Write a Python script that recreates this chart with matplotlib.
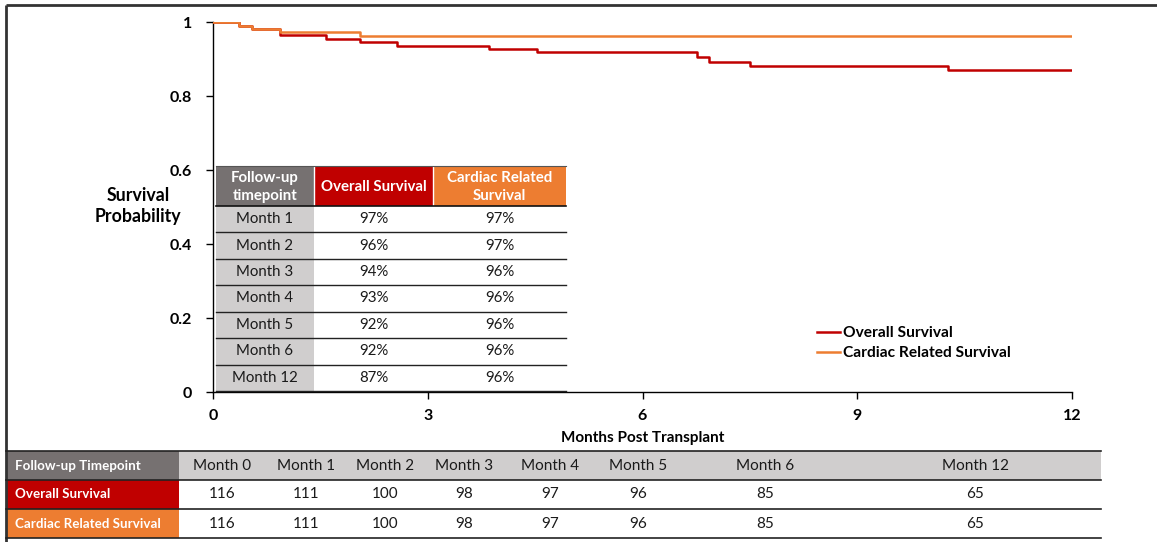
import matplotlib
matplotlib.use("Agg")
import matplotlib.pyplot as plt
from matplotlib.patches import Rectangle

# ---- data ----
overall_t = [0, 0.36, 0.55, 0.93, 1.58, 2.05, 2.57, 3.85, 4.52, 6.76, 6.93, 7.50, 10.27, 12]
overall_s = [1, 0.989, 0.982, 0.966, 0.955, 0.945, 0.936, 0.926, 0.918, 0.905, 0.893, 0.882, 0.870, 0.870]
cardiac_t = [0, 0.36, 0.55, 0.93, 2.05, 12]
cardiac_s = [1, 0.989, 0.982, 0.973, 0.962, 0.962]

inset_timepoints = ["Month 1", "Month 2", "Month 3", "Month 4", "Month 5", "Month 6", "Month 12"]
inset_overall = ["97%", "96%", "94%", "93%", "92%", "92%", "87%"]
inset_cardiac = ["97%", "97%", "96%", "96%", "96%", "96%", "96%"]

risk_timepoints = ["Month 0", "Month 1", "Month 2", "Month 3", "Month 4", "Month 5", "Month 6", "Month 12"]
risk_overall = [116, 111, 100, 98, 97, 96, 85, 65]
risk_cardiac = [116, 111, 100, 98, 97, 96, 85, 65]

x_ticks = [0, 3, 6, 9, 12]
y_ticks = [0, 0.2, 0.4, 0.6, 0.8, 1]
y_tick_labels = ["0", "0.2", "0.4", "0.6", "0.8", "1"]

RED = "#C00000"
ORANGE = "#ED7D31"
DARK_GRAY = "#767171"
LIGHT_GRAY = "#D0CECE"
TEXT = "#1a1a1a"

plt.rcParams["font.family"] = ["Lato", "DejaVu Sans"]

W, H = 1157, 542
fig = plt.figure(figsize=(W / 100, H / 100), dpi=100)

# main survival axes
ax = fig.add_axes([213 / W, (H - 392) / H, (1072 - 213) / W, (392 - 22) / H])
ax.step(overall_t, overall_s, where="post", color=RED, lw=1.8, label="Overall Survival", zorder=3)
ax.step(cardiac_t, cardiac_s, where="post", color=ORANGE, lw=1.8, label="Cardiac Related Survival", zorder=4)
ax.set_xlim(0, 12)
ax.set_ylim(0, 1)
ax.set_xticks(x_ticks)
ax.set_yticks(y_ticks)
ax.set_xticklabels([str(v) for v in x_ticks], fontweight="bold", fontsize=11.5)
ax.set_yticklabels(y_tick_labels, fontweight="bold", fontsize=11.5)
ax.tick_params(axis="x", direction="out", length=5, width=1, pad=7)
ax.tick_params(axis="y", direction="out", length=5, width=1, pad=10)
for s in ["top", "right"]:
    ax.spines[s].set_visible(False)
for s in ["left", "bottom"]:
    ax.spines[s].set_linewidth(1)
ax.set_xlabel("Months Post Transplant", fontweight="bold", fontsize=11, labelpad=6)
ax.patch.set_alpha(0)

ax.legend(loc="upper left", bbox_to_anchor=(803 / W, 1 - 312 / H),
          bbox_transform=fig.transFigure, frameon=False,
          handlelength=1.5, handletextpad=0.15, labelspacing=0.4,
          prop={"weight": "bold", "size": 11.2})

# overlay in pixel coordinates for labels and tables
ov = fig.add_axes([0, 0, 1, 1], zorder=5)
ov.set_xlim(0, W)
ov.set_ylim(H, 0)
ov.axis("off")
ov.patch.set_alpha(0)

ov.text(138, 206, "Survival\nProbability", ha="center", va="center",
        fontweight="bold", fontsize=12.8, linespacing=1.28)

# figure frame
ov.plot([6, 6], [5, H], color="#333333", lw=2, solid_capstyle="butt")
ov.plot([6, W], [5, 5], color="#333333", lw=2, solid_capstyle="butt")

# ---- inset survival table ----
c_edges = [216, 314, 433, 566]
hdr_top, hdr_bot = 166, 206
row_h = (391 - 206) / len(inset_timepoints)
hdr_colors = [DARK_GRAY, RED, ORANGE]
hdr_texts = ["Follow-up\ntimepoint", "Overall Survival", "Cardiac Related\nSurvival"]
for i in range(3):
    ov.add_patch(Rectangle((c_edges[i], hdr_top), c_edges[i + 1] - c_edges[i], hdr_bot - hdr_top,
                           facecolor=hdr_colors[i], edgecolor="none"))
    ov.text((c_edges[i] + c_edges[i + 1]) / 2, (hdr_top + hdr_bot) / 2 + 1, hdr_texts[i],
            ha="center", va="center", color="white", fontweight="bold", fontsize=10.8, linespacing=1.4)
for x in c_edges[1:3]:
    ov.plot([x, x], [hdr_top, hdr_bot], color="white", lw=1)
ov.plot([c_edges[0], c_edges[-1]], [hdr_top, hdr_top], color="#555555", lw=0.8)
ov.plot([c_edges[0], c_edges[-1]], [hdr_bot, hdr_bot], color="#111111", lw=1.2)
ov.add_patch(Rectangle((c_edges[0], hdr_bot), c_edges[1] - c_edges[0], 391 - hdr_bot,
                       facecolor=LIGHT_GRAY, edgecolor="none"))
for r, (tp, o, c) in enumerate(zip(inset_timepoints, inset_overall, inset_cardiac)):
    yc = hdr_bot + (r + 0.5) * row_h
    ov.text((c_edges[0] + c_edges[1]) / 2, yc, tp, ha="center", va="center", fontsize=10.8, color=TEXT)
    ov.text((c_edges[1] + c_edges[2]) / 2, yc, o, ha="center", va="center", fontsize=10.8, color=TEXT)
    ov.text((c_edges[2] + c_edges[3]) / 2, yc, c, ha="center", va="center", fontsize=10.8, color=TEXT)
    yb = hdr_bot + (r + 1) * row_h
    ov.plot([c_edges[0], c_edges[-1]], [yb, yb], color="#222222", lw=1.0)

# ---- number-at-risk table ----
t_left, t_right, t_split = 6, 1101, 179
rows_y = [451, 480, 509, 538]
col_x = [222, 306, 385, 464, 550, 638, 765, 975]
ov.add_patch(Rectangle((t_left, rows_y[0]), t_split - t_left, rows_y[1] - rows_y[0], facecolor=DARK_GRAY, edgecolor="none"))
ov.add_patch(Rectangle((t_split, rows_y[0]), t_right - t_split, rows_y[1] - rows_y[0], facecolor=LIGHT_GRAY, edgecolor="none"))
ov.add_patch(Rectangle((t_left, rows_y[1]), t_split - t_left, rows_y[2] - rows_y[1], facecolor=RED, edgecolor="none"))
ov.add_patch(Rectangle((t_left, rows_y[2]), t_split - t_left, rows_y[3] - rows_y[2], facecolor=ORANGE, edgecolor="none"))
row_labels = ["Follow-up Timepoint", "Overall Survival", "Cardiac Related Survival"]
for k, lab in enumerate(row_labels):
    ov.text(15, (rows_y[k] + rows_y[k + 1]) / 2, lab, ha="left", va="center",
            color="white", fontweight="bold", fontsize=9.6)
for x, tp, o, c in zip(col_x, risk_timepoints, risk_overall, risk_cardiac):
    ov.text(x, (rows_y[0] + rows_y[1]) / 2, tp, ha="center", va="center", fontsize=11, color=TEXT)
    ov.text(x, (rows_y[1] + rows_y[2]) / 2, str(o), ha="center", va="center", fontsize=11, color=TEXT)
    ov.text(x, (rows_y[2] + rows_y[3]) / 2, str(c), ha="center", va="center", fontsize=11, color=TEXT)
for y in rows_y:
    ov.plot([t_left, t_right], [y, y], color="#222222", lw=1.2)

fig.savefig("out.png", dpi=100)
